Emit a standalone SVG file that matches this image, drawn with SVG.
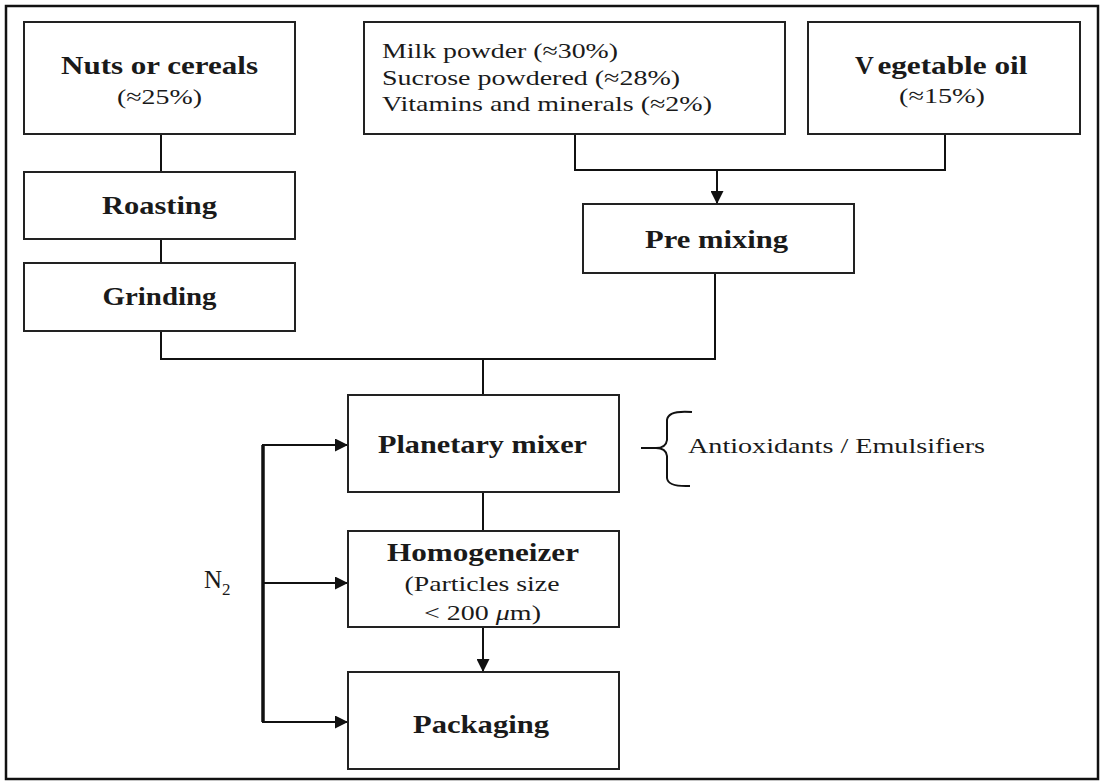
<svg xmlns="http://www.w3.org/2000/svg" width="1104" height="782" viewBox="0 0 1104 782">
<style>
.box{fill:#fff;stroke:#222;stroke-width:2}
.ln{fill:none;stroke:#111;stroke-width:2}
.thick{fill:none;stroke:#111;stroke-width:3.5}
.t{font-family:"Liberation Serif","Times New Roman",serif;fill:#1a1a1a}
.b{font-weight:bold;font-size:26px}
.r{font-size:22px}
.c{text-anchor:middle}
</style>
<defs>
<marker id="ah" viewBox="0 0 10 10" refX="10" refY="5" markerWidth="14" markerHeight="13" markerUnits="userSpaceOnUse" orient="auto">
<path d="M0,0 L10,5 L0,10 Z" fill="#111"/>
</marker>
</defs>
<rect x="0" y="0" width="1104" height="782" fill="#fff"/>
<rect x="6" y="6" width="1092" height="773" fill="none" stroke="#111" stroke-width="2.5"/>

<g id="connectors">
<path class="ln" d="M161,134 V172"/>
<path class="ln" d="M161,239 V263"/>
<path class="ln" d="M161,331 V359 H715 V273"/>
<path class="ln" d="M483,359 V395"/>
<path class="ln" d="M575,134 V170 H945 V134"/>
<path class="ln" d="M717,170 V204" marker-end="url(#ah)"/>
<path class="ln" d="M483,492 V531"/>
<path class="ln" d="M483,627 V672" marker-end="url(#ah)"/>
<path class="thick" d="M263,445 V722"/>
<path class="ln" stroke-width="3" d="M262,445 H348" marker-end="url(#ah)"/>
<path class="ln" stroke-width="3" d="M262,583 H348" marker-end="url(#ah)"/>
<path class="ln" stroke-width="3" d="M262,722 H348" marker-end="url(#ah)"/>
</g>

<g id="nuts">
<rect class="box" x="24" y="22" width="271" height="112"/>
<text class="t b c" x="159.5" y="74" textLength="197" lengthAdjust="spacingAndGlyphs">Nuts or cereals</text>
<text class="t r c" x="159.5" y="104" textLength="85" lengthAdjust="spacingAndGlyphs">(≈25%)</text>
</g>
<g id="roasting">
<rect class="box" x="24" y="172" width="271" height="67"/>
<text class="t b c" x="159.5" y="214" textLength="115" lengthAdjust="spacingAndGlyphs">Roasting</text>
</g>
<g id="grinding">
<rect class="box" x="24" y="263" width="271" height="68"/>
<text class="t b c" x="159.5" y="305" textLength="114" lengthAdjust="spacingAndGlyphs">Grinding</text>
</g>
<g id="milk">
<rect class="box" x="364" y="22" width="421" height="112"/>
<text class="t r" x="382" y="58" textLength="236" lengthAdjust="spacingAndGlyphs">Milk powder (≈30%)</text>
<text class="t r" x="382" y="85" textLength="298" lengthAdjust="spacingAndGlyphs">Sucrose powdered (≈28%)</text>
<text class="t r" x="382" y="111" textLength="330" lengthAdjust="spacingAndGlyphs">Vitamins and minerals (≈2%)</text>
</g>
<g id="oil">
<rect class="box" x="808" y="22" width="272" height="112"/>
<text class="t b" x="855" y="74"><tspan>V</tspan><tspan dx="6" textLength="150" lengthAdjust="spacingAndGlyphs">egetable oil</tspan></text>
<text class="t r c" x="942" y="103" textLength="86" lengthAdjust="spacingAndGlyphs">(≈15%)</text>
</g>
<g id="premixing">
<rect class="box" x="583" y="204" width="271" height="69"/>
<text class="t b c" x="716.5" y="248" textLength="143" lengthAdjust="spacingAndGlyphs">Pre mixing</text>
</g>
<g id="planetary">
<rect class="box" x="348" y="395" width="271" height="97"/>
<text class="t b c" x="482.5" y="453" textLength="209" lengthAdjust="spacingAndGlyphs">Planetary mixer</text>
</g>
<g id="homogeneizer">
<rect class="box" x="348" y="531" width="271" height="96"/>
<text class="t b c" x="483" y="561" textLength="192" lengthAdjust="spacingAndGlyphs">Homogeneizer</text>
<text class="t r c" x="482" y="591" textLength="155" lengthAdjust="spacingAndGlyphs">(Particles size</text>
<text class="t r c" x="482.5" y="620" textLength="117" lengthAdjust="spacingAndGlyphs">&lt; 200 <tspan font-style="italic">μ</tspan>m)</text>
</g>
<g id="packaging">
<rect class="box" x="348" y="672" width="271" height="97"/>
<text class="t b c" x="481" y="733" textLength="136" lengthAdjust="spacingAndGlyphs">Packaging</text>
</g>
<g id="n2">
<text class="t" font-size="25" x="204" y="588">N<tspan font-size="17" dy="7">2</tspan></text>
</g>
<g id="additives">
<path class="ln" d="M692,412 Q668,410 667,420 V440 Q666,448 656,448 H641 M656,448 Q666,448 667,456 V478 Q668,487 690,486"/>
<text class="t r" x="688" y="453" textLength="297" lengthAdjust="spacingAndGlyphs">Antioxidants / Emulsifiers</text>
</g>
</svg>
